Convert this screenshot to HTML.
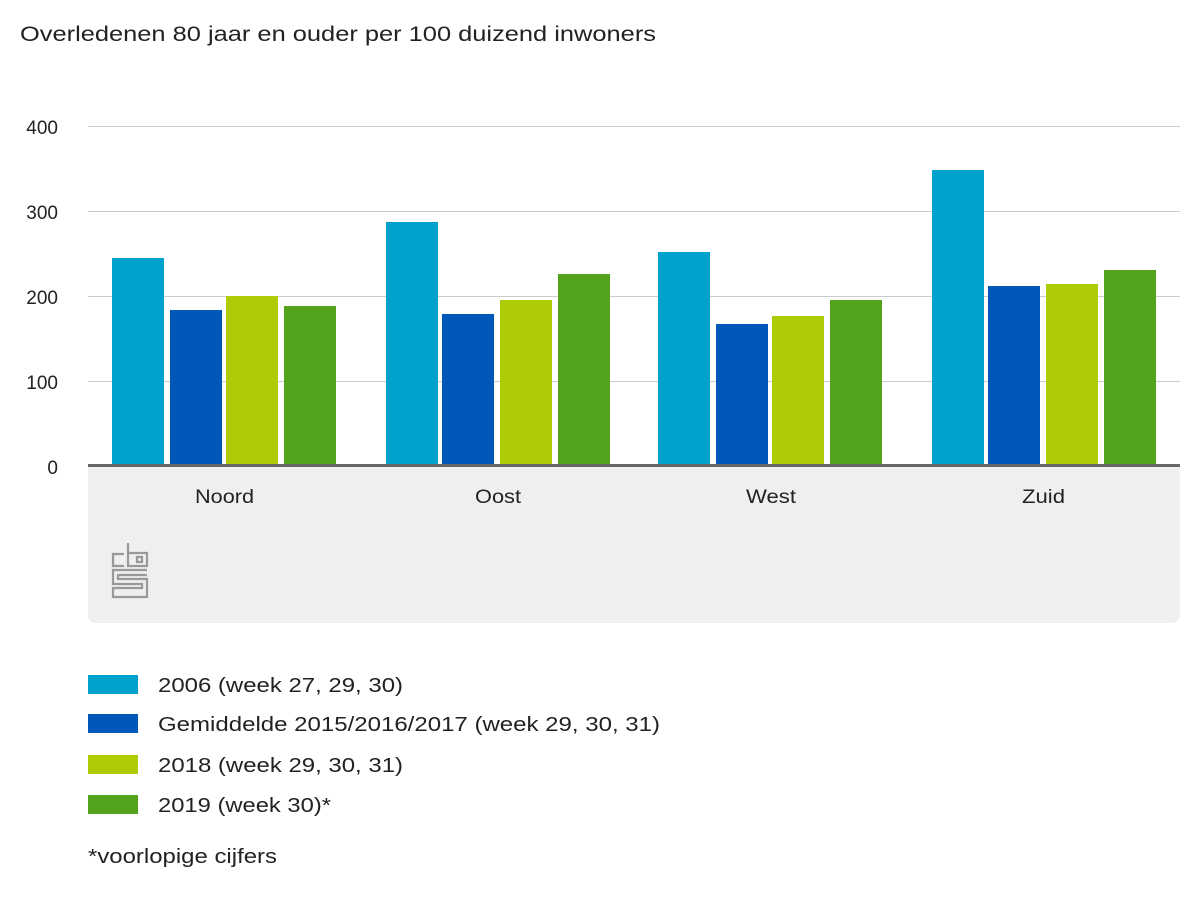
<!DOCTYPE html>
<html><head><meta charset="utf-8"><style>
body{margin:0;width:1200px;height:900px;background:#fff;font-family:"Liberation Sans",Arial,sans-serif;color:#222;position:relative;overflow:hidden}
</style></head><body>
<svg width="1200" height="900" style="position:absolute;left:0;top:0">
<text x="20" y="41" font-size="21" fill="#222" textLength="636" lengthAdjust="spacingAndGlyphs">Overledenen 80 jaar en ouder per 100 duizend inwoners</text>
<path d="M88 467H1180V615a8 8 0 0 1-8 8H96a8 8 0 0 1-8-8Z" fill="#efefef"/>
<g stroke="#ccc" stroke-width="1">
<line x1="88" y1="126.5" x2="1180" y2="126.5"/><line x1="88" y1="211.5" x2="1180" y2="211.5"/>
<line x1="88" y1="296.5" x2="1180" y2="296.5"/><line x1="88" y1="381.5" x2="1180" y2="381.5"/>
</g>
<g font-size="19" fill="#222" text-anchor="end">
<text x="58" y="134">400</text><text x="58" y="219">300</text><text x="58" y="304">200</text><text x="58" y="389">100</text><text x="58" y="474">0</text>
</g>
<g>
<rect x="112" y="258" width="52" height="207" fill="#00a1cd"/><rect x="170" y="310" width="52" height="155" fill="#0058b8"/><rect x="226" y="296" width="52" height="169" fill="#afcb05"/><rect x="284" y="306" width="52" height="159" fill="#53a31d"/>
<rect x="386" y="222" width="52" height="243" fill="#00a1cd"/><rect x="442" y="314" width="52" height="151" fill="#0058b8"/><rect x="500" y="300" width="52" height="165" fill="#afcb05"/><rect x="558" y="274" width="52" height="191" fill="#53a31d"/>
<rect x="658" y="252" width="52" height="213" fill="#00a1cd"/><rect x="716" y="324" width="52" height="141" fill="#0058b8"/><rect x="772" y="316" width="52" height="149" fill="#afcb05"/><rect x="830" y="300" width="52" height="165" fill="#53a31d"/>
<rect x="932" y="170" width="52" height="295" fill="#00a1cd"/><rect x="988" y="286" width="52" height="179" fill="#0058b8"/><rect x="1046" y="284" width="52" height="181" fill="#afcb05"/><rect x="1104" y="270" width="52" height="195" fill="#53a31d"/>
</g>
<rect x="88" y="464" width="1092" height="3" fill="#666"/>
<g font-size="19" fill="#222">
<text x="195" y="503" textLength="59" lengthAdjust="spacingAndGlyphs">Noord</text>
<text x="475" y="503" textLength="46" lengthAdjust="spacingAndGlyphs">Oost</text>
<text x="746" y="503" textLength="50" lengthAdjust="spacingAndGlyphs">West</text>
<text x="1022" y="503" textLength="43" lengthAdjust="spacingAndGlyphs">Zuid</text>
</g>
<g fill="none" stroke="#999" stroke-width="2.2">
<path d="M124 554H113V566H124"/>
<path d="M128 543V566H147V553H128"/>
<rect x="137" y="557" width="5" height="5"/>
<path d="M147 570H113V584H142V588H113V597H147V579H118V575H147"/>
</g>
<g font-size="20" fill="#222">
<rect x="88" y="675" width="50" height="19" fill="#00a1cd"/><text x="158" y="692" textLength="245" lengthAdjust="spacingAndGlyphs">2006 (week 27, 29, 30)</text>
<rect x="88" y="714" width="50" height="19" fill="#0058b8"/><text x="158" y="731" textLength="502" lengthAdjust="spacingAndGlyphs">Gemiddelde 2015/2016/2017 (week 29, 30, 31)</text>
<rect x="88" y="755" width="50" height="19" fill="#afcb05"/><text x="158" y="772" textLength="245" lengthAdjust="spacingAndGlyphs">2018 (week 29, 30, 31)</text>
<rect x="88" y="795" width="50" height="19" fill="#53a31d"/><text x="158" y="812" textLength="173" lengthAdjust="spacingAndGlyphs">2019 (week 30)*</text>
<text x="88" y="863" textLength="189" lengthAdjust="spacingAndGlyphs">*voorlopige cijfers</text>
</g>
</svg>
</body></html>
